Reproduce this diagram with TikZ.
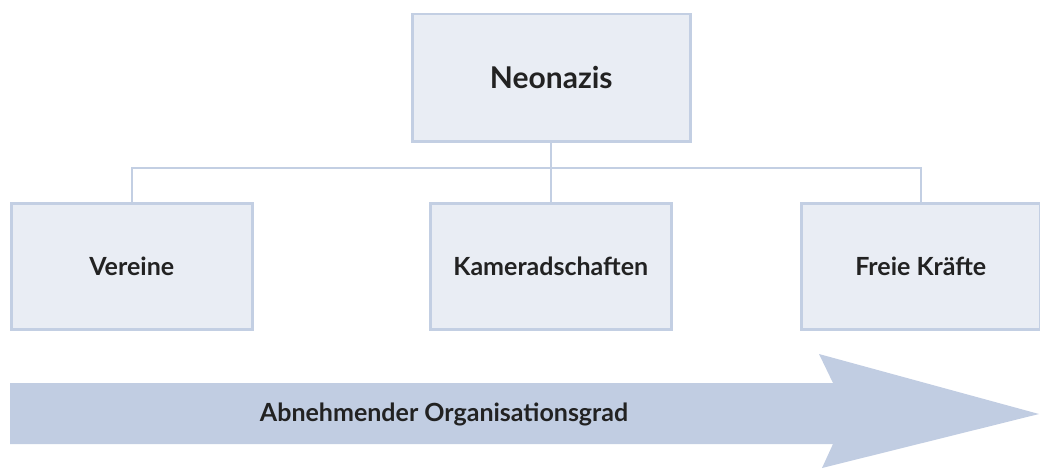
\documentclass[tikz,border=0pt]{standalone}
\usepackage{fontspec}
\setmainfont{Lato}
\definecolor{boxfill}{HTML}{E9EDF4}
\definecolor{boxline}{HTML}{C3CFE3}
\definecolor{arrowfill}{HTML}{C1CDE2}
\definecolor{txt}{HTML}{222222}
\begin{document}
\begin{tikzpicture}[x=1pt,y=-1pt,
  box/.style={draw=boxline,fill=boxfill,line width=2.5pt,anchor=north west,inner sep=0pt,text=txt,font=\bfseries\fontsize{25}{30}\selectfont},
  conn/.style={draw=boxline,line width=2.5pt}]
\useasboundingbox (0,0) rectangle (1040,468);
\node[box,minimum width=278pt,minimum height=127pt,font=\bfseries\fontsize{30}{36}\selectfont] (top) at (411,13) {Neonazis};
\node[box,minimum width=241pt,minimum height=126pt] (ver) at (10,202) {Vereine};
\node[box,minimum width=241pt,minimum height=126pt] (kam) at (429,202) {Kameradschaften};
\node[box,minimum width=239pt,minimum height=126pt] (fre) at (800,202) {Freie Kräfte};
\coordinate (bar) at (549.5,168);
\draw[conn] (kam.north |- top.south) -- (kam.north);
\draw[conn] (ver.north) |- (bar) -| (fre.north);
\fill[arrowfill] (10,383) -- (833,383) -- (819,354) -- (1039,414) -- (822,468) -- (833,444) -- (10,444) -- cycle;
\node[text=txt,font=\bfseries\fontsize{25}{30}\selectfont] (lab) at (444,414) {Abnehmender Organisationsgrad};
\end{tikzpicture}
\end{document}
